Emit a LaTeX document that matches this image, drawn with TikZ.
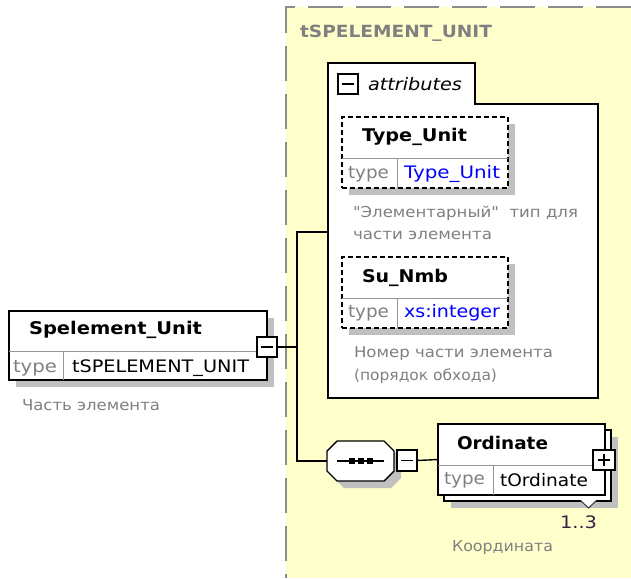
\documentclass[tikz,border=0pt]{standalone}
\usepackage{fontspec}
\usepackage{graphicx}
\newfontfamily\dv[FakeStretch=1.12]{DejaVu Sans}
\usetikzlibrary{shadows}
\newcommand\fw[2]{\resizebox{#1pt}{\height}{#2}}
\definecolor{bgyel}{RGB}{255,255,204}
\definecolor{shgray}{RGB}{192,192,192}
\definecolor{dashgray}{RGB}{140,140,140}
\definecolor{txgray}{RGB}{128,128,128}
\definecolor{divgray}{RGB}{150,150,150}
\definecolor{tyblue}{RGB}{0,0,255}
\definecolor{occ}{RGB}{60,30,70}
\begin{document}
\begin{tikzpicture}[x=1pt,y=-1pt,
  every node/.style={inner sep=0pt,outer sep=0pt},
  shd/.style={drop shadow={shadow xshift=7pt,shadow yshift=-7pt,opacity=1,fill=shgray}},
  elbox/.style={draw=black,line width=1.4pt,fill=white,shd},
  attbox/.style={draw=black,line width=1.4pt,fill=white,dash pattern=on 5pt off 3pt,shd},
  ttl/.style={anchor=west,font=\dv\fontsize{17.5}{20}\selectfont\bfseries},
  tylbl/.style={anchor=west,text=txgray,font=\dv\fontsize{17.2}{20}\selectfont},
  tyval/.style={anchor=west,font=\dv\fontsize{17.2}{20}\selectfont},
  desc/.style={anchor=west,text=txgray,font=\dv\fontsize{15}{18}\selectfont},
  div/.style={draw=divgray,line width=1pt},
  conn/.style={draw=black,line width=1.4pt},
  pmbox/.style={draw=black,line width=1.3pt,fill=white,minimum width=20pt,minimum height=20pt}
]
\useasboundingbox (0,0) rectangle (631,578);
\fill[white] (0,0) rectangle (631,578);
% complex type area
\fill[bgyel] (286,7) rectangle (631,578);
\draw[dashgray,line width=2pt,dash pattern=on 35pt off 13pt] (631,7) -- (286,7) -- (286,578);
\node[anchor=west,text=txgray,font=\dv\fontsize{16.8}{20}\selectfont\bfseries] (hdr) at (300,33) {\fw{192}{tSPELEMENT\_UNIT}};

% attributes container
\draw[line width=1.4pt,fill=white] (328,63) -- (475,63) -- (475,104) -- (598,104) -- (598,398) -- (328,398) -- cycle;
\coordinate (attrin) at (328,232);
\node[pmbox] (atm) at (348,84) {};
\draw[line width=1.3pt] ([xshift=-6pt]atm.center) -- ([xshift=6pt]atm.center);
\node[anchor=west,font=\dv\fontsize{17.2}{20}\selectfont\itshape] (attl) at (368,84) {\fw{94}{attributes}};

% Type_Unit attribute
\node[attbox,minimum width=166pt,minimum height=71pt] (tu) at (425,152.5) {};
\draw[div] (342,158) -- (508,158);
\draw[div] (397,158) -- (397,188);
\node[ttl] (tut) at (362,137) {\fw{105}{Type\_Unit}};
\node[tylbl] (tul) at (348,174) {\fw{41}{type}};
\node[tyval,text=tyblue] (tuv) at (404,174) {\fw{96}{Type\_Unit}};
\node[desc] (tud1) at (353,213) {\fw{225}{"Элементарный"\ \ тип для}};
\node[desc] (tud2) at (353,235) {\fw{139}{части элемента}};

% Su_Nmb attribute
\node[attbox,minimum width=166pt,minimum height=71pt] (sn) at (425,292.5) {};
\draw[div] (342,298) -- (508,298);
\draw[div] (397,298) -- (397,328);
\node[ttl] (snt) at (362,278) {\fw{86}{Su\_Nmb}};
\node[tylbl] (snl) at (348,313) {\fw{41}{type}};
\node[tyval,text=tyblue] (snv) at (404,313) {\fw{96}{xs:integer}};
\node[desc] (snd1) at (354,354) {\fw{199}{Номер части элемента}};
\node[desc] (snd2) at (354,376) {\fw{143}{(порядок обхода)}};

% Spelement_Unit element
\node[elbox,minimum width=258pt,minimum height=69pt] (spel) at (138,345.5) {};
\draw[div] (9,351) -- (267,351);
\draw[div] (63,351) -- (63,380);
\node[ttl] (spt) at (29,330) {\fw{173}{Spelement\_Unit}};
\node[tylbl] (spl) at (13,368) {\fw{44}{type}};
\node[tyval] (spv) at (72,368) {\fw{177}{tSPELEMENT\_UNIT}};
\node[desc] (spd) at (22,405) {\fw{138}{Часть элемента}};
\node[pmbox] (spm) at (267,347) {};
\draw[line width=1.3pt] ([xshift=-6pt]spm.center) -- ([xshift=6pt]spm.center);

% sequence compositor
\node[minimum width=67pt,minimum height=40pt] (seq) at (360.5,461) {};
\fill[shgray] (334,458) -- (344,448) -- (391,448) -- (401,458) -- (401,478) -- (391,488) -- (344,488) -- (334,478) -- cycle;
\draw[line width=1.4pt,fill=white] (327,451) -- (337,441) -- (384,441) -- (394,451) -- (394,471) -- (384,481) -- (337,481) -- (327,471) -- cycle;
\draw[line width=1.4pt] (337,461) -- (384,461);
\foreach \xx in {352,361,370} \fill (\xx-2.8,458.2) rectangle (\xx+2.8,463.8);
\node[pmbox,minimum height=21pt] (sqm) at (407,460.5) {};
\draw[line width=1.3pt] ([xshift=-6pt]sqm.center) -- ([xshift=6pt]sqm.center);

% Ordinate element (repeated)
\node[elbox,minimum width=167pt,minimum height=71pt] (ordb) at (527.5,465.5) {};
\node[draw=black,line width=1.4pt,fill=white,minimum width=167pt,minimum height=71pt] (ord) at (521.5,459.5) {};
\draw[div] (438,465) -- (605,465);
\draw[div] (493,465) -- (493,495);
\node[ttl] (ordt) at (457,443) {\fw{91}{Ordinate}};
\node[tylbl] (ordl) at (444,480) {\fw{41}{type}};
\node[tyval] (ordv) at (500,480) {\fw{88}{tOrdinate}};
\node[pmbox,minimum width=22pt] (ordp) at (604,460) {};
\draw[line width=1.3pt] ([xshift=-6pt]ordp.center) -- ([xshift=6pt]ordp.center);
\draw[line width=1.3pt] ([yshift=-6pt]ordp.center) -- ([yshift=6pt]ordp.center);
\draw[line width=1pt,draw=black!80,fill=white] (580,500) -- (588.5,508) -- (597,500);
\node[text=occ,font=\dv\fontsize{17.2}{20}\selectfont] (occn) at (578.5,522) {\fw{37}{1..3}};
\node[text=txgray,font=\dv\fontsize{15}{18}\selectfont] (ordd) at (502.5,548) {\fw{101}{Координата}};

% connectors
\coordinate (junc) at (297,347);
\draw[conn] (spm.east) -- (junc);
\draw[conn] (attrin) -| (junc);
\draw[conn] (seq.west) -| (junc);
\draw[conn] (sqm.east) -- (ord.west);
\end{tikzpicture}
\end{document}
